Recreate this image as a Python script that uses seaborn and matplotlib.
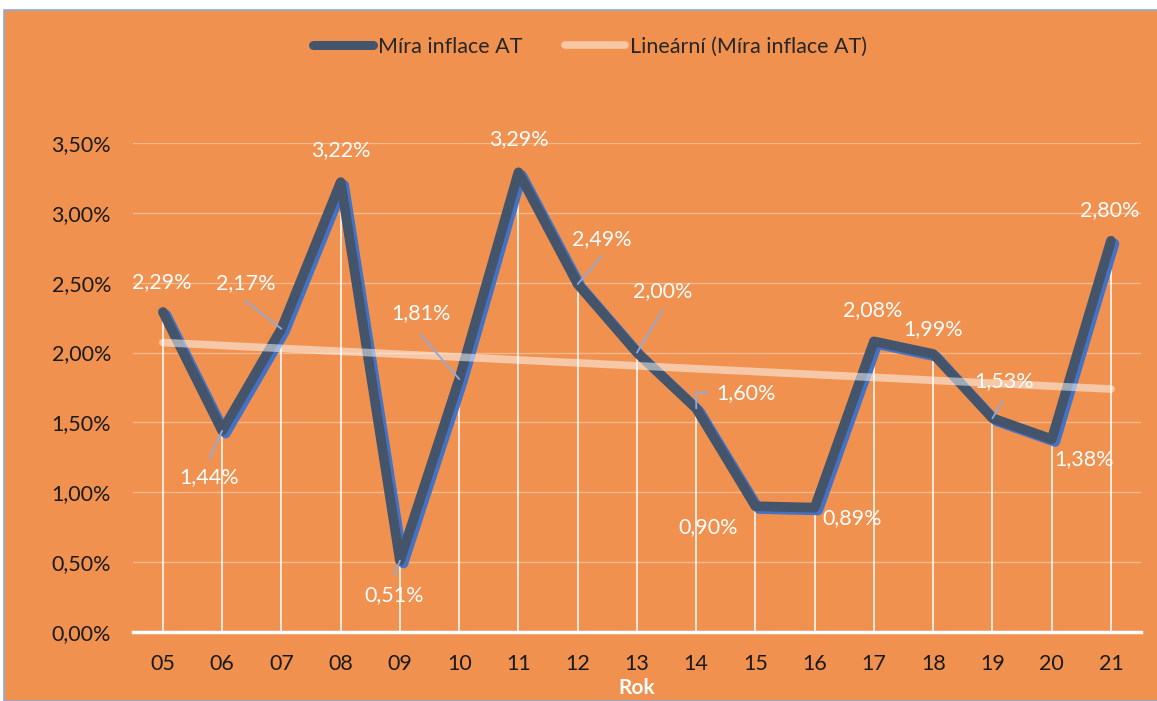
import numpy as np
import pandas as pd
import seaborn as sns
import matplotlib.pyplot as plt
import matplotlib.patheffects as pe
from matplotlib.lines import Line2D
from matplotlib.patches import Rectangle
from matplotlib.transforms import offset_copy

years = ["05", "06", "07", "08", "09", "10", "11", "12", "13", "14",
         "15", "16", "17", "18", "19", "20", "21"]
inflation = [2.29, 1.44, 2.17, 3.22, 0.51, 1.81, 3.29, 2.49, 2.00, 1.60,
             0.90, 0.89, 2.08, 1.99, 1.53, 1.38, 2.80]
y_ticks = [0.0, 0.5, 1.0, 1.5, 2.0, 2.5, 3.0, 3.5]

# label offsets in pixels (dx, dy)
label_offsets = [(-1, 30), (-13, -46), (-36, 46), (0, 32), (-6, -34), (-38, 66),
                 (0, 33), (24, 45), (26, 61), (50, 15), (-47, -21), (37, -10),
                 (-1, 31), (0, 25), (12, 37), (32, -20), (-1, 31)]
# leader line vertices (pixel offsets from the point)
leaders = {1: [(0, 0), (-13, -28)], 2: [(0, 0), (-36, 28)], 4: [(0, 0), (-6, -14)],
           5: [(0, 0), (-39, 45)], 7: [(0, 0), (24, 28)], 8: [(0, 0), (26, 43)],
           9: [(0, 0), (0, 16), (12, 16)], 14: [(0, 0), (10, 17)]}

BG = "#F0914F"
DARK = "#44546A"
SHADOW = "#4472C4"
LEADER = "#8FAADC"

df = pd.DataFrame({"idx": np.arange(len(years)), "Rok": years, "value": inflation})

sns.set_style("white")
plt.rcParams["font.family"] = ["Lato", "DejaVu Sans"]

fig = plt.figure(figsize=(11.57, 7.01), dpi=100)
fig.patch.set_facecolor("white")
fig.patches.append(Rectangle((4 / 1157, 0), 1, 1 - 10 / 701, transform=fig.transFigure,
                             facecolor=BG, edgecolor="#8EA9DB", linewidth=1.2, zorder=-10))

ax = fig.add_axes([133.3 / 1157, 69 / 701, (1140.6 - 133.3) / 1157, 489 / 701])
ax.set_facecolor("none")

# drop lines
ax.vlines(df["idx"], 0, df["value"], color="white", lw=1.4, alpha=0.8, zorder=2)

sns.lineplot(data=df, x="idx", y="value", ax=ax, color=DARK, lw=7, zorder=4,
             solid_capstyle="round", solid_joinstyle="round", legend=False,
             path_effects=[pe.SimpleLineShadow(offset=(2.5, -2), shadow_color=SHADOW, alpha=1),
                           pe.Normal()])

sns.regplot(data=df, x="idx", y="value", ax=ax, scatter=False, ci=None, truncate=True,
            line_kws={"color": "white", "lw": 5.5, "alpha": 0.5, "zorder": 5,
                      "solid_capstyle": "round"})

for i, v in enumerate(inflation):
    dx, dy = label_offsets[i]
    txt = f"{v:.2f}".replace(".", ",") + "%"
    ax.annotate(txt, (i, v), xytext=(dx, dy), textcoords="offset pixels",
                ha="center", va="center", color="white", fontsize=15.5, zorder=6,
                annotation_clip=False)
    if i in leaders:
        pts = leaders[i]
        for (x0, y0), (x1, y1) in zip(pts[:-1], pts[1:]):
            start = offset_copy(ax.transData, fig=fig, x=x0, y=y0, units="dots")
            ax.annotate("", (i, v), xycoords=start, xytext=(x1 - x0, y1 - y0),
                        textcoords="offset pixels",
                        arrowprops=dict(arrowstyle="-", color=LEADER, lw=1.3,
                                        shrinkA=0, shrinkB=0), zorder=6)

ax.set_xlim(-0.5, len(years) - 0.5)
ax.set_ylim(0, 3.5)
ax.set_xticks(df["idx"])
ax.set_xticklabels(years, fontsize=15.5, color="#1a1a1a")
ax.set_yticks(y_ticks)
ax.set_yticklabels([f"{t:.2f}".replace(".", ",") + "%" for t in y_ticks],
                   fontsize=15.5, color="#1a1a1a")
ax.tick_params(axis="x", length=0, pad=16)
ax.tick_params(axis="y", length=0, pad=16)
for y in y_ticks[1:]:
    ax.axhline(y, color="white", lw=1, alpha=0.35, zorder=1)
for s in ["top", "right", "left"]:
    ax.spines[s].set_visible(False)
ax.spines["bottom"].set_color("white")
ax.spines["bottom"].set_linewidth(2.5)
ax.set_ylabel("")
ax.set_xlabel("Rok", fontsize=15, fontweight="bold", color="white", labelpad=3)

handles = [Line2D([], [], color=DARK, lw=6.5, solid_capstyle="round"),
           Line2D([], [], color="#F7C7A4", lw=5.5, solid_capstyle="round")]
fig.legend(handles, ["Míra inflace AT", "Lineární (Míra inflace AT)"],
           loc="center", bbox_to_anchor=(590 / 1157, 1 - 47 / 701), ncol=2,
           frameon=False, fontsize=15.5, handlelength=2.8, handletextpad=0.2,
           columnspacing=2.0)

fig.savefig("out.png", dpi=100, facecolor=fig.get_facecolor())
